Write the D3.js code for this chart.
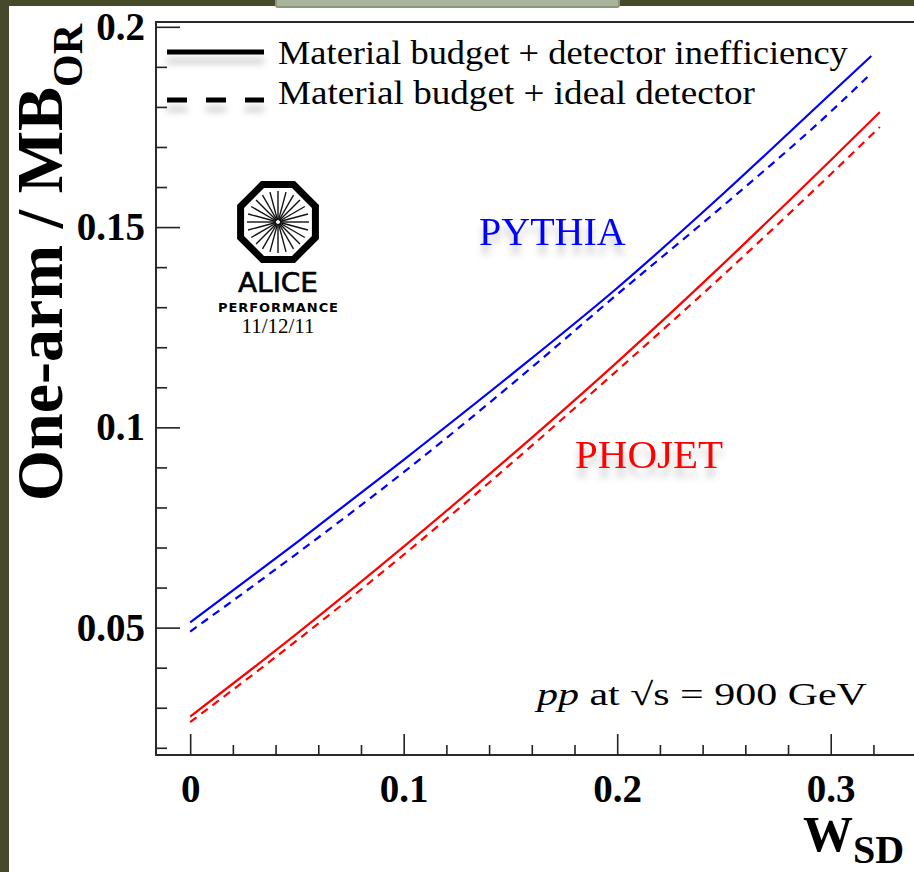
<!DOCTYPE html>
<html>
<head>
<meta charset="utf-8">
<script src="https://cdn.jsdelivr.net/npm/d3@7"></script>
<style>
  body { margin: 0; background: #464a2a; }
  svg { display: block; }
  .cm { font-family: "Liberation Serif", serif; }
</style>
</head>
<body>
<svg width="914" height="872"></svg>
<script>
// values
const wsdPythia = [0, 0.05, 0.1, 0.15, 0.2, 0.25, 0.3, 0.319];
const wsdPhojet = [0, 0.05, 0.1, 0.15, 0.2, 0.25, 0.3, 0.323];
const pythiaIneff = [0.0513, 0.0713, 0.0919, 0.1130, 0.1348, 0.1585, 0.1833, 0.1927];
const pythiaIdeal = [0.0490, 0.0685, 0.0888, 0.1105, 0.1332, 0.1555, 0.1788, 0.1884];
const phojetIneff = [0.0278, 0.0485, 0.0702, 0.0928, 0.1163, 0.1410, 0.1667, 0.1787];
const phojetIdeal = [0.0264, 0.0468, 0.0682, 0.0908, 0.1142, 0.1382, 0.1632, 0.1750];

const xMajor = [0, 0.1, 0.2, 0.3];
const xMajorLabels = ['0', '0.1', '0.2', '0.3'];
const xMinor = [0.02, 0.04, 0.06, 0.08, 0.12, 0.14, 0.16, 0.18, 0.22, 0.24, 0.26, 0.28, 0.32];
const yMajor = [0.05, 0.1, 0.15, 0.2];
const yMajorLabels = ['0.05', '0.1', '0.15', '0.2'];
const yMinor = [0.02, 0.03, 0.04, 0.06, 0.07, 0.08, 0.09, 0.11, 0.12, 0.13, 0.14, 0.16, 0.17, 0.18, 0.19];

const legendLabels = ['Material budget + detector inefficiency', 'Material budget + ideal detector'];

const svg = d3.select('svg'),
    width = +svg.attr('width'),
    height = +svg.attr('height');

const serif = "'Liberation Serif', 'Times New Roman', serif";

const x = d3.scaleLinear()
    .domain([-0.016, 0.339])
    .range([156, 914]);
const y = d3.scaleLinear()
    .domain([0.0182, 0.2012])
    .range([755, 22]);

// stretch a text horizontally to a measured width
function fitText(sel, x0, y0, w) {
  const n = sel.node().getComputedTextLength();
  sel.attr('transform', `translate(${x0},${y0}) scale(${w / n},1)`);
}

const defs = svg.append('defs');
const shadow = defs.append('filter')
    .attr('id', 'shadow')
    .attr('filterUnits', 'userSpaceOnUse')
    .attr('x', 0).attr('y', 0).attr('width', width).attr('height', height);
shadow.append('feDropShadow')
    .attr('dx', 0).attr('dy', 9)
    .attr('stdDeviation', 3.5)
    .attr('flood-color', '#000')
    .attr('flood-opacity', 0.22);

// page background + tab at top
svg.append('rect')
    .attr('x', 9).attr('y', 6)
    .attr('width', width).attr('height', height)
    .attr('fill', '#fff');
svg.append('rect')
    .attr('x', 276).attr('y', -6)
    .attr('width', 343).attr('height', 13)
    .attr('rx', 2)
    .attr('fill', '#a8b39a')
    .attr('stroke', '#8a957d')
    .attr('stroke-width', 2);

// frame
const frame = svg.append('g')
    .attr('stroke', '#2a2a2a')
    .attr('stroke-width', 2);
frame.append('line').attr('x1', 156).attr('x2', 156).attr('y1', 22).attr('y2', 756);
frame.append('line').attr('x1', 155).attr('x2', width).attr('y1', 755).attr('y2', 755);
frame.append('line').attr('x1', 155).attr('x2', width).attr('y1', 22).attr('y2', 22);

// y axis
const yMinorAxis = svg.append('g')
    .attr('transform', 'translate(156,0)')
    .call(d3.axisLeft(y).tickValues(yMinor).tickSizeInner(-11).tickSizeOuter(0).tickFormat(''));
const yMajorAxis = svg.append('g')
    .attr('transform', 'translate(156,0)')
    .call(d3.axisLeft(y).tickValues(yMajor).tickSizeInner(-24).tickSizeOuter(0)
      .tickPadding(11)
      .tickFormat((d, i) => yMajorLabels[i]));

// x axis
const xMinorAxis = svg.append('g')
    .attr('transform', 'translate(0,755)')
    .call(d3.axisBottom(x).tickValues(xMinor).tickSizeInner(-10).tickSizeOuter(0).tickFormat(''));
const xMajorAxis = svg.append('g')
    .attr('transform', 'translate(0,755)')
    .call(d3.axisBottom(x).tickValues(xMajor).tickSizeInner(-21).tickSizeOuter(0)
      .tickPadding(19)
      .tickFormat((d, i) => xMajorLabels[i]));

[yMinorAxis, yMajorAxis, xMinorAxis, xMajorAxis].forEach(g => {
  g.select('.domain').remove();
  g.selectAll('line').attr('stroke', '#222').attr('stroke-width', 1.6);
  g.selectAll('text')
    .attr('fill', '#000')
    .attr('font-family', serif)
    .attr('font-weight', 'bold')
    .attr('font-size', 39);
});

// curves
const series = [
  {xs: wsdPythia, ys: pythiaIneff, color: '#0000ff', dash: null},
  {xs: wsdPythia, ys: pythiaIdeal, color: '#0000ff', dash: '8,6'},
  {xs: wsdPhojet, ys: phojetIneff, color: '#ff0000', dash: null},
  {xs: wsdPhojet, ys: phojetIdeal, color: '#ff0000', dash: '8,6'}
];

const line = d3.line()
    .x(d => x(d[0]))
    .y(d => y(d[1]))
    .curve(d3.curveMonotoneX);

svg.append('g')
  .selectAll('path')
  .data(series)
  .enter().append('path')
    .attr('d', s => line(s.xs.map((v, i) => [v, s.ys[i]])))
    .attr('fill', 'none')
    .attr('stroke', s => s.color)
    .attr('stroke-width', 2.2)
    .attr('stroke-dasharray', s => s.dash);

// legend
const legend = svg.append('g');
legend.append('line')
    .attr('x1', 167).attr('x2', 264).attr('y1', 52).attr('y2', 52)
    .attr('stroke', '#000').attr('stroke-width', 5)
    .attr('filter', 'url(#shadow)');
legend.append('line')
    .attr('x1', 167).attr('x2', 264).attr('y1', 100).attr('y2', 100)
    .attr('stroke', '#000').attr('stroke-width', 5)
    .attr('stroke-dasharray', '20,19')
    .attr('filter', 'url(#shadow)');
legend.selectAll('text')
  .data(legendLabels)
  .enter().append('text')
    .attr('class', 'cm')
    .style('font-family', '"Liberation Serif", serif')
    .style('font-size', '34px')
    .text(d => d)
    .each(function(d, i) {
      fitText(d3.select(this), 278, i === 0 ? 64 : 104, i === 0 ? 570 : 477);
    });

// model labels
svg.append('text')
    .attr('x', 479).attr('y', 245)
    .attr('font-family', serif).attr('font-size', 40)
    .attr('fill', '#0000ff')
    .attr('filter', 'url(#shadow)')
    .text('PYTHIA');
svg.append('text')
    .attr('x', 575).attr('y', 468)
    .attr('font-family', serif).attr('font-size', 41)
    .attr('fill', '#ff0000')
    .attr('filter', 'url(#shadow)')
    .text('PHOJET');

// energy label
const energy = svg.append('text')
    .attr('class', 'cm')
    .style('font-family', '"Liberation Serif", serif')
    .style('font-size', '32px');
energy.append('tspan').attr('font-style', 'italic').text('pp');
energy.append('tspan').text(' at \u221As = 900 GeV');
fitText(energy, 537, 705, 330);

// axis titles
const yTitle = svg.append('text')
    .attr('transform', 'translate(62,24) rotate(-90)')
    .attr('text-anchor', 'end')
    .attr('font-family', serif)
    .attr('font-weight', 'bold')
    .attr('font-size', 66)
    .text('One-arm / MB');
yTitle.append('tspan').attr('font-size', 42).attr('dy', 20).text('OR');

const xTitle = svg.append('text')
    .attr('x', 803).attr('y', 851)
    .attr('font-family', serif)
    .attr('font-weight', 'bold')
    .attr('font-size', 50)
    .text('W');
xTitle.append('tspan').attr('font-size', 40).attr('dy', 12).text('SD');

// ALICE performance logo
const logo = svg.append('g').attr('transform', 'translate(278,222)');
const rOct = 40.5;
const octagon = d3.range(8).map(i => {
  const a = Math.PI / 8 + i * Math.PI / 4;
  return [rOct * Math.cos(a), rOct * Math.sin(a)];
});
logo.append('polygon')
    .attr('points', octagon.map(p => p.join(',')).join(' '))
    .attr('fill', 'none')
    .attr('stroke', '#000')
    .attr('stroke-width', 7);
logo.selectAll('line')
  .data(d3.range(24))
  .enter().append('line')
    .attr('x1', d => 2 * Math.cos(d * Math.PI / 12))
    .attr('y1', d => 2 * Math.sin(d * Math.PI / 12))
    .attr('x2', d => 31 * Math.cos(d * Math.PI / 12))
    .attr('y2', d => 31 * Math.sin(d * Math.PI / 12))
    .attr('stroke', '#111')
    .attr('stroke-width', 1.4);
logo.append('text')
    .attr('x', 0).attr('y', 70)
    .attr('text-anchor', 'middle')
    .attr('font-family', "'DejaVu Sans', sans-serif")
    .attr('font-size', 27)
    .attr('textLength', 80)
    .attr('lengthAdjust', 'spacingAndGlyphs')
    .attr('stroke', '#000')
    .attr('stroke-width', 0.6)
    .text('ALICE');
logo.append('text')
    .attr('x', 0).attr('y', 90)
    .attr('text-anchor', 'middle')
    .attr('font-family', "'DejaVu Sans', sans-serif")
    .attr('font-weight', 'bold')
    .attr('font-size', 13)
    .attr('textLength', 120)
    .text('PERFORMANCE');
logo.append('text')
    .attr('x', 0).attr('y', 111)
    .attr('text-anchor', 'middle')
    .attr('font-family', serif)
    .attr('font-size', 21)
    .text('11/12/11');
</script>
</body>
</html>
